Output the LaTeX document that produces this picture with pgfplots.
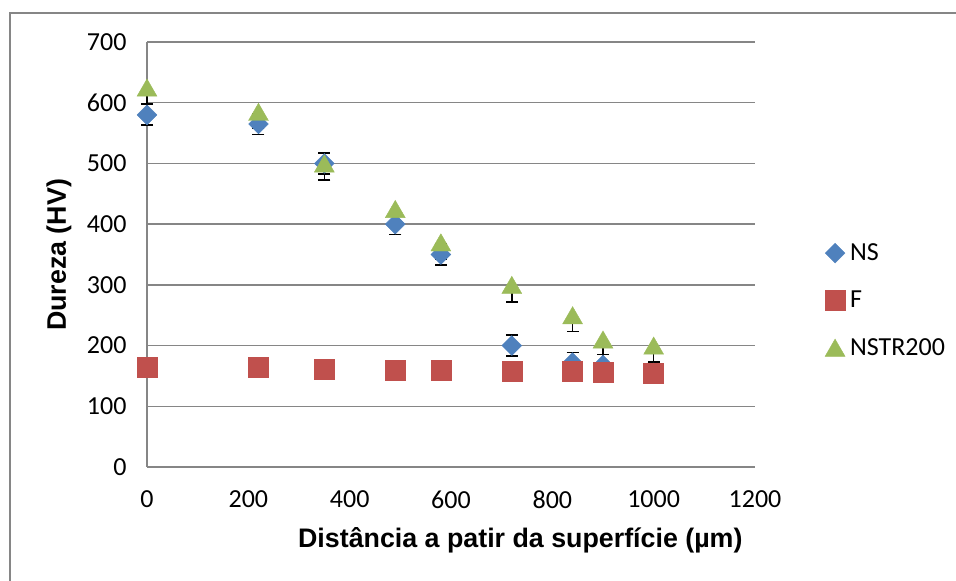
\documentclass[border=0pt]{standalone}
\usepackage{pgfplots}
\pgfplotsset{compat=1.18}
\usepackage{fontspec}
\setmainfont{Carlito}
\newfontfamily\arialb{Liberation Sans}[Scale=1.0]
\definecolor{nsblue}{HTML}{4F81BD}
\definecolor{fred}{HTML}{C0504D}
\definecolor{ngreen}{HTML}{9BBB59}
\definecolor{gridgray}{HTML}{868686}
\begin{document}
\begin{tikzpicture}
\useasboundingbox (0pt,0pt) rectangle (956pt,581pt);
\draw[gridgray, line width=1.3pt] (10pt,-5pt) -- (10pt,568pt) -- (961pt,568pt);
\begin{axis}[
  at={(147pt,114pt)}, anchor=south west,
  scale only axis, width=608pt, height=425pt,
  xmin=0, xmax=1200, ymin=0, ymax=700,
  xtick={0,200,...,1200}, ytick={0,100,...,700},
  axis x line*=bottom, axis y line*=left,
  axis line style={gridgray, line width=1.5pt},
  major tick length=0pt,
  ymajorgrids, grid style={gridgray, line width=1.5pt},
  tick label style={font=\fontsize{26}{31}\selectfont},
  /pgf/number format/assume math mode=true,
  /pgf/number format/1000 sep={},
  yticklabel style={xshift=-17pt},
  xticklabel style={yshift=-20pt},
  xlabel={Distância a patir da superfície (µm)},
  ylabel={Dureza (HV)},
  label style={font=\arialb\bfseries\fontsize{26.8}{32}\selectfont},
  xlabel style={at={(axis description cs:0.614,-0.172)}, anchor=center},
  ylabel style={at={(axis description cs:-0.1447,0.499)}, anchor=center},
  legend style={at={(axis description cs:1.110,0.392)}, anchor=west, draw=none, fill=none,
    font=\fontsize{26}{31}\selectfont, row sep=25pt},
  legend cell align=left,
  clip=false,
]
\addplot+[only marks, mark=square*, mark size=7, mark options={rotate=45, fill=nsblue, draw=nsblue},
  error bars/.cd, y dir=both, y explicit,
  error bar style={black, line width=1.5pt},
  error mark options={black, line width=1.5pt, mark size=6, rotate=90}]
  table[x=x, y=y, y error=e] {
x y e
0 580 17
220 565 17
350 500 17
490 400 17
580 350 17
720 200 17
840 172 17
900 168 17
1000 155 17
};
\addlegendentry{\hspace{3pt}NS}
\addplot+[only marks, mark=square*, mark size=10, mark options={fill=fred, draw=fred}]
  table[x=x, y=y] {
x y
0 164
220 164
350 161
490 160
580 159
720 158
840 157
900 156
1000 155
};
\addlegendentry{\hspace{3pt}F}
\addplot+[only marks, mark=triangle*, mark size=11.5, mark options={fill=ngreen, draw=ngreen, yshift=-2.9pt},
  error bars/.cd, y dir=minus, y explicit,
  error bar style={black, line width=1.5pt},
  error mark options={black, line width=1.5pt, mark size=6, rotate=90}]
  table[x=x, y=y, y error=e] {
x y e
0 625 27
220 585 27
350 500 27
490 425 27
580 370 27
720 300 28
840 250 27
900 210 25
1000 200 27
};
\addlegendentry{\hspace{3pt}NSTR200}
\end{axis}
\end{tikzpicture}
\end{document}
